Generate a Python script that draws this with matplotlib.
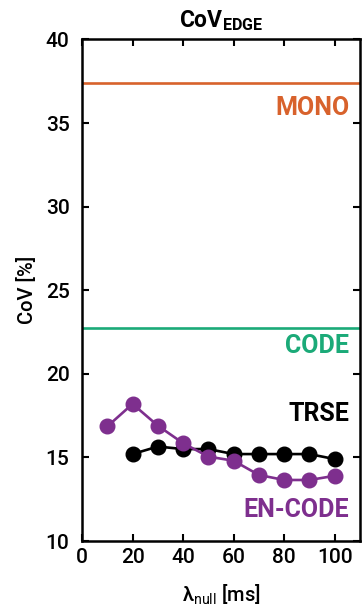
import matplotlib
matplotlib.use("Agg")
import matplotlib.pyplot as plt

plt.rcParams['font.family'] = ['Roboto', 'DejaVu Sans']
plt.rcParams['mathtext.fontset'] = 'custom'
plt.rcParams['mathtext.rm'] = 'Roboto'
plt.rcParams['mathtext.bf'] = 'Roboto:bold'

# Data
trse_x = [20, 30, 40, 50, 60, 70, 80, 90, 100]
trse_y = [15.2, 15.65, 15.5, 15.5, 15.2, 15.2, 15.2, 15.2, 14.9]
encode_x = [10, 20, 30, 40, 50, 60, 70, 80, 90, 100]
encode_y = [16.85, 18.2, 16.9, 15.85, 15.05, 14.8, 13.95, 13.65, 13.65, 13.9]
mono_level = 37.4
code_level = 22.75
xticks = [0, 20, 40, 60, 80, 100]
yticks = [10, 15, 20, 25, 30, 35, 40]
labels = ['MONO', 'CODE', 'TRSE', 'EN-CODE']
label_y = [35.9, 21.64, 17.6, 11.87]

c_mono = '#D8622C'
c_code = '#1BAA78'
c_enc = '#7E2F8E'
c_trse = '#000000'
label_colors = [c_mono, c_code, c_trse, c_enc]

fig = plt.figure(figsize=(3.62, 6.12), dpi=100)
ax = fig.add_axes([0.2265, 0.116, 0.768, 0.8195])

ax.axhline(mono_level, color=c_mono, lw=1.9)
ax.axhline(code_level, color=c_code, lw=1.9)
ax.plot(trse_x, trse_y, '-o', color=c_trse, lw=1.9, ms=10.5, zorder=3)
ax.plot(encode_x, encode_y, '-o', color=c_enc, lw=1.9, ms=10.5, zorder=4)

ax.set_xlim(0, 110)
ax.set_ylim(10, 40)
ax.set_xticks(xticks)
ax.set_yticks(yticks)
ax.tick_params(direction='in', length=5, width=1.5, top=True, right=True,
               labelsize=15)
ax.tick_params(axis='y', pad=9)
ax.tick_params(axis='x', pad=5)
for lab in ax.get_xticklabels() + ax.get_yticklabels():
    lab.set_fontweight('medium')
for s in ax.spines.values():
    s.set_linewidth(1.8)

for txt, yy, cc in zip(labels, label_y, label_colors):
    ax.text(105.8, yy, txt, color=cc, fontsize=18, fontweight='bold',
            ha='right', va='center')

ax.set_title(r'CoV$_{\mathbf{EDGE}}$', fontsize=16.5, fontweight='bold', pad=9)
ax.set_ylabel('CoV [%]', fontsize=14.5, fontweight='medium', labelpad=6)
ax.set_xlabel(r'λ$_{\mathrm{null}}$ [ms]', fontsize=14.5, fontweight='medium', labelpad=11)

fig.savefig('out.png', dpi=100)
